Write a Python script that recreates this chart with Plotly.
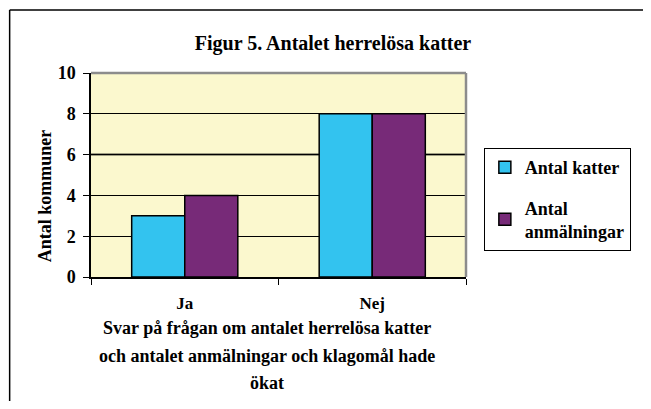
import plotly.graph_objects as go

# data
categories = ["Ja", "Nej"]
antal_katter = [3, 8]
antal_anmalningar = [4, 8]
series_names = ["Antal katter", "Antal<br>anmälningar"]
series_colors = ["#33C3EF", "#772A78"]
y_ticks = [0, 2, 4, 6, 8, 10]
x_title_lines = [
    "Svar på frågan om antalet herrelösa katter",
    "och antalet anmälningar och klagomål hade",
    "ökat",
]

FONT = "Liberation Serif"

# the page has an 8px body margin; keep the figure inside the window
W, H = 635, 393
L, T = 83, 65
PW, PH = 378, 204
R, B = W - L - PW, H - T - PH


def px(x):
    # figure pixel -> paper x
    return (x - L) / PW


def py(y):
    # figure pixel -> paper y
    return (T + PH - y) / PH


fig = go.Figure()
for i, (name, vals, col) in enumerate(zip(series_names, [antal_katter, antal_anmalningar], series_colors)):
    fig.add_trace(
        go.Bar(
            x=categories,
            y=vals,
            name=name,
            legendgroup=f"g{i}",
            marker=dict(color=col, line=dict(color="black", width=1.5)),
        )
    )

fig.update_layout(
    width=W,
    height=H,
    margin=dict(l=L, r=R, t=T, b=B),
    paper_bgcolor="white",
    plot_bgcolor="#FBF8CE",
    barmode="group",
    bargap=0.434,
    bargroupgap=0,
    font=dict(family=FONT, color="black", size=14),
    title=dict(
        text="<b>Figur 5. Antalet herrelösa katter</b>",
        x=325 / W,
        xanchor="center",
        y=1 - 35 / H,
        yanchor="middle",
        font=dict(size=20, family=FONT),
    ),
    legend=dict(
        x=px(479),
        y=py(140),
        xanchor="left",
        yanchor="top",
        bordercolor="black",
        borderwidth=1,
        bgcolor="white",
        font=dict(size=18, family=FONT, weight="bold"),
        traceorder="grouped",
        tracegroupgap=14,
        itemwidth=30,
    ),
    showlegend=True,
)

fig.update_yaxes(
    range=[0, 10],
    tickvals=y_ticks,
    showgrid=True,
    gridcolor="black",
    gridwidth=1,
    showline=True,
    linecolor="black",
    linewidth=1.5,
    ticks="outside",
    ticklen=6,
    tickcolor="black",
    ticklabelstandoff=4,
    tickfont=dict(size=18, family=FONT, weight="bold"),
    zeroline=False,
)

fig.update_xaxes(
    showline=True,
    linecolor="black",
    linewidth=2,
    ticks="outside",
    tickson="boundaries",
    ticklen=6,
    tickcolor="black",
    ticklabelstandoff=10,
    tickfont=dict(size=17, family=FONT, weight="bold"),
    showgrid=False,
)

# gray gridline at 6 and gray top/right plot border as in the original
fig.add_shape(type="line", xref="paper", yref="y", x0=0, x1=1, y0=6, y1=6,
              line=dict(color="#7F7F6A", width=2.5), layer="below")
fig.add_shape(type="line", xref="paper", yref="paper", x0=0, x1=1, y0=1, y1=1,
              line=dict(color="#8C8C8C", width=2.5))
fig.add_shape(type="line", xref="paper", yref="paper", x0=1, x1=1, y0=0, y1=1,
              line=dict(color="#8C8C8C", width=2.5))

# outer chart frame, only top and left show in the original
fig.add_shape(type="line", xref="paper", yref="paper",
              x0=px(1), x1=px(W + 20), y0=py(2), y1=py(2),
              line=dict(color="black", width=1.5))
fig.add_shape(type="line", xref="paper", yref="paper",
              x0=px(1), x1=px(1), y0=py(2), y1=py(H + 20),
              line=dict(color="black", width=1.5))

# y axis title
fig.add_annotation(
    text="<b>Antal kommuner</b>",
    xref="paper", yref="paper",
    x=px(37), y=py(188),
    xanchor="center", yanchor="middle",
    textangle=-90,
    showarrow=False,
    font=dict(size=18, family=FONT),
)

# x axis title, three lines
for k, line in enumerate(x_title_lines):
    fig.add_annotation(
        text=f"<b>{line}</b>",
        xref="paper", yref="paper",
        x=px(260), y=py(320 + 27.5 * k),
        xanchor="center", yanchor="middle",
        showarrow=False,
        font=dict(size=18, family=FONT),
    )

fig.write_html("out.html")
